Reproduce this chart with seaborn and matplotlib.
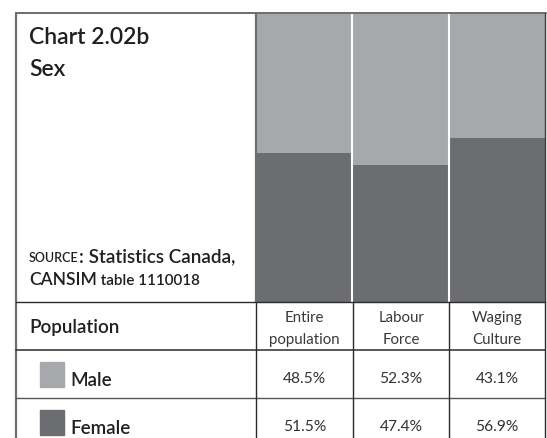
import matplotlib
matplotlib.use("Agg")
import matplotlib.pyplot as plt
from matplotlib.lines import Line2D
import seaborn as sns
import pandas as pd

# Data
groups = ["Entire\npopulation", "Labour\nForce", "Waging\nCulture"]
male = [48.5, 52.3, 43.1]
female = [51.5, 47.4, 56.9]
series = ["Male", "Female"]

MALE_C = "#a7a8ab"
FEMALE_C = "#6c6d70"
FRAME_C = "#6d6e71"
RULE_C = "#2b2b2b"
TEXT_C = "#231f20"

W, H = 547, 438
DPI = 100
sns.set_theme(style="white")
plt.rcParams["font.family"] = ["Lato", "DejaVu Sans"]

fig = plt.figure(figsize=(W / DPI, H / DPI), dpi=DPI)

def fx(px):
    return px / W

def fy(py):
    return 1 - py / H

# layout in pixels
left, right = 16, 545
top, bars_bottom = 13, 302
panel_x = 256
col_edges = [256, 353, 449, 545]
row_lines = [302, 350, 398]

# stacked bar panel: female at the base, male stacked on top
ax = fig.add_axes([fx(panel_x), fy(bars_bottom), fx(right - panel_x), (bars_bottom - top) / H])
df = pd.DataFrame({"group": groups, "male": male, "female": female})
df["stack_top"] = df["female"] + df["male"]
sns.barplot(data=df, x="group", y="stack_top", color=MALE_C, width=1.0,
            linewidth=0, saturation=1, ax=ax)
sns.barplot(data=df, x="group", y="female", color=FEMALE_C, width=1.0,
            linewidth=0, saturation=1, ax=ax)
for xs in (0.5, 1.5):
    ax.axvline(xs, color="white", lw=1.5)
ax.set_xlim(-0.5, 2.5)
ax.set_ylim(0, 100)
ax.set_axis_off()

# frame lines
def hline(y, x0, x1, color, lw):
    fig.add_artist(Line2D([fx(x0), fx(x1)], [fy(y), fy(y)], color=color, lw=lw))

def vline(x, y0, y1, color, lw):
    fig.add_artist(Line2D([fx(x), fx(x)], [fy(y0), fy(y1)], color=color, lw=lw))

hline(top, left, right + 0.5, FRAME_C, 1.4)
vline(left, top, H, FRAME_C, 1.6)
vline(panel_x, top, bars_bottom, FRAME_C, 1.6)
vline(right, top, bars_bottom, "#3a3a3a", 1.0)
hline(row_lines[0], left, right, RULE_C, 1.0)
hline(row_lines[1], left, right, RULE_C, 1.1)
hline(row_lines[2], left, right, "#555555", 1.0)
for x in col_edges:
    vline(x, bars_bottom, H, RULE_C, 1.0)

# title and source
fig.text(fx(29), fy(44), "Chart 2.02b", fontsize=16.5, color=TEXT_C, va="baseline",
         fontweight="semibold")
fig.text(fx(29), fy(76), "Sex", fontsize=16.5, color=TEXT_C, va="baseline",
         fontweight="semibold")
t = fig.text(fx(29), fy(262), "SOURCE", fontsize=9.0, color=TEXT_C, va="baseline",
             fontweight="semibold")
fig.canvas.draw()
bb = t.get_window_extent()
fig.text(bb.x1 / W, fy(262), ": Statistics Canada,", fontsize=13.6, color=TEXT_C,
         va="baseline", fontweight="semibold")
t2 = fig.text(fx(29), fy(285), "CANSIM", fontsize=12.6, color=TEXT_C, va="baseline",
              fontweight="semibold")
fig.canvas.draw()
bb2 = t2.get_window_extent()
fig.text(bb2.x1 / W, fy(285), " table 1110018", fontsize=11.0, color=TEXT_C,
         va="baseline", fontweight="semibold")

# table
fig.text(fx(29), fy(333), "Population", fontsize=13.5, color=TEXT_C, va="baseline",
         fontweight="semibold")
for i, g in enumerate(groups):
    cx = (col_edges[i] + col_edges[i + 1]) / 2
    l1, l2 = g.split("\n")
    fig.text(fx(cx), fy(322), l1, fontsize=10.8, color="#3a3a3a", ha="center",
             va="baseline")
    fig.text(fx(cx), fy(344), l2, fontsize=10.8, color="#3a3a3a", ha="center",
             va="baseline")

values = [male, female]
colors = [MALE_C, FEMALE_C]
row_base = [386, 434]
for r, name in enumerate(series):
    y0 = row_base[r]
    fig.patches.append(plt.Rectangle((fx(40), fy(y0 + 1)), fx(24), 25 / H,
                                     transform=fig.transFigure, color=colors[r]))
    fig.text(fx(70), fy(y0), name, fontsize=13.5, color=TEXT_C, va="baseline",
             fontweight="semibold")
    for i, v in enumerate(values[r]):
        cx = (col_edges[i] + col_edges[i + 1]) / 2
        fig.text(fx(cx), fy(y0 - 3), f"{v:.1f}%", fontsize=11.2, color="#333333",
                 ha="center", va="baseline")

fig.savefig("out.png", dpi=DPI, facecolor="white")
